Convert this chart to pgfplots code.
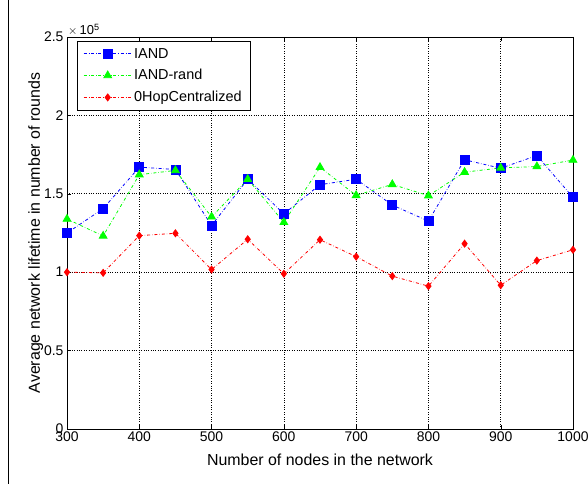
\documentclass[border=0pt]{standalone}
\usepackage{pgfplots}
\pgfplotsset{compat=1.18}
\usepackage{fontspec}
\setmainfont{Liberation Sans}

\pgfplotstableread{
n     iand   iandrand  central
300   1.250  1.339     1.000
350   1.405  1.231     0.996
400   1.670  1.622     1.233
450   1.655  1.649     1.248
500   1.298  1.353     1.017
550   1.593  1.593     1.210
600   1.372  1.318     0.990
650   1.558  1.669     1.207
700   1.593  1.490     1.099
750   1.428  1.560     0.975
800   1.326  1.488     0.911
850   1.717  1.638     1.182
900   1.663  1.665     0.917
950   1.744  1.674     1.074
1000  1.477  1.715     1.143
}\lifetime

\begin{document}
\begin{tikzpicture}[x=1bp,y=1bp]
\useasboundingbox (0,0) rectangle (588,484);
\draw[line width=0.8bp] (8,0) -- (8,484);
\begin{axis}[
  at={(67bp,55bp)}, anchor=south west,
  width=506bp, height=392bp, scale only axis,
  xmin=300, xmax=1000, ymin=0, ymax=2.5,
  xtick={300,400,...,1000},
  ytick={0,0.5,...,2.5},
  yticklabels={0,0.5,1,1.5,2,2.5},
  /pgf/number format/1000 sep={},
  grid=major,
  major grid style={black, dotted, line width=0.6bp},
  axis line style={black, line width=0.6bp},
  tick style={black},
  tick align=inside,
  ticklabel style={font=\fontsize{14}{14}\selectfont},
  xticklabel style={yshift=1bp},
  /pgf/number format/assume math mode=true,
  xlabel={Number of nodes in the network},
  ylabel={Average network lifetime in number of rounds},
  label style={font=\fontsize{16}{16}\selectfont},
  xlabel style={yshift=-6bp},
  ylabel style={yshift=-6bp},
  legend image code/.code={
    \draw[mark repeat=2, mark phase=2] plot coordinates {(0bp,0bp) (24bp,0bp) (48bp,0bp)};},
  legend style={at={(0.02,0.99)}, anchor=north west,
    font=\fontsize{14.5}{15}\selectfont, row sep=6bp,
    inner xsep=6bp, inner ysep=5bp},
  legend cell align=left,
  clip=false,
]
\addplot[color=blue, draw=blue, dash dot, line width=0.8bp, mark=square*, mark size=4.5bp,
  mark options={solid}] table[x=n, y=iand] {\lifetime};
\addlegendentry{IAND}
\addplot[color=green, draw=green, dash dot, line width=0.8bp, mark=triangle*, mark size=4.5bp,
  mark options={solid}] table[x=n, y=iandrand] {\lifetime};
\addlegendentry{IAND-rand}
\addplot[color=red, draw=red, dash dot, line width=0.8bp, mark=diamond*, mark size=3.5bp,
  mark options={solid}] table[x=n, y=central] {\lifetime};
\addlegendentry{0HopCentralized}
\node[anchor=south west, font=\fontsize{13}{13}\selectfont, inner sep=1bp]
  at (rel axis cs:0,1) {$\times$\,10\textsuperscript{5}};
\end{axis}
\end{tikzpicture}
\end{document}
